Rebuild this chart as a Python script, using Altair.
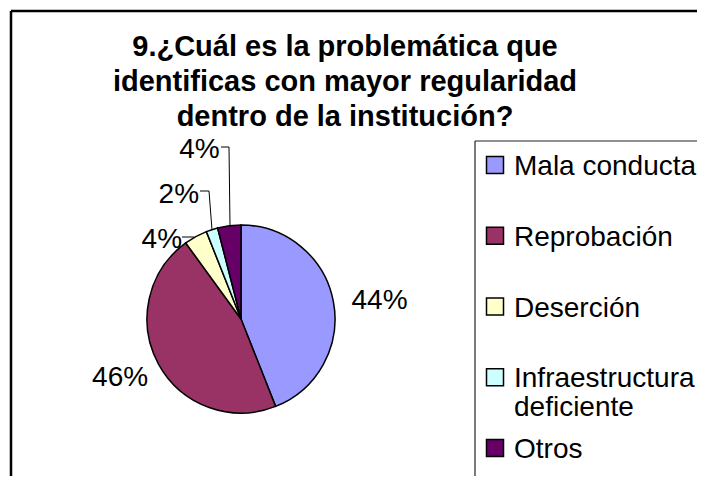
import altair as alt
import pandas as pd

# ---- data ----
categories = ["Mala conducta", "Reprobación", "Deserción", "Infraestructura deficiente", "Otros"]
legend_labels = ["Mala conducta", "Reprobación", "Deserción", "Infraestructura\ndeficiente", "Otros"]
values = [44, 46, 4, 2, 4]
colors = ["#9999FF", "#993366", "#FFFFCC", "#CCFFFF", "#660066"]
title_lines = [
    "9.¿Cuál es la problemática que",
    "identificas con mayor regularidad",
    "dentro de la institución?",
]

df = pd.DataFrame({
    "cat": categories,
    "legend": legend_labels,
    "value": values,
    "idx": list(range(len(categories))),
})

FONT = "Liberation Sans"
W, H = 689, 468
CX, CY, R = 233, 311, 94

color = alt.Color("cat:N", scale=alt.Scale(domain=categories, range=colors), legend=None)
theta = alt.Theta("value:Q", stack=True)
order = alt.Order("idx:Q", sort="ascending")
base = alt.Chart(df).transform_calculate(label="datum.value + '%'")
one = alt.Chart(df).transform_filter(alt.datum.idx == 0)

pie = base.mark_arc(radius=R, stroke="black", strokeWidth=1.5).encode(
    theta=theta, color=color, order=order, x=alt.value(CX), y=alt.value(CY)
)


def slice_label(cat, r, dx=0, dy=0):
    return base.mark_text(
        radius=r, dx=dx, dy=dy, font=FONT, fontSize=28, color="black",
        align="center", baseline="middle",
    ).encode(
        theta=theta, order=order, x=alt.value(CX), y=alt.value(CY),
        text=alt.condition(alt.datum.cat == cat, "label:N", alt.value("")),
    )


labels = [
    slice_label("Mala conducta", 141, 0, 8),
    slice_label("Reprobación", 138, 0, -7),
    slice_label("Deserción", 100, -31, 9),
    slice_label("Infraestructura deficiente", 130, -22, 0),
    slice_label("Otros", 172, -20, 2),
]


def rule(x1, y1, x2, y2, w=1, c="black"):
    return one.mark_rule(strokeWidth=w, color=c).encode(
        x=alt.value(x1), y=alt.value(y1), x2=alt.value(x2), y2=alt.value(y2)
    )


leaders = [
    rule(213, 139, 221, 139), rule(221, 139, 222, 218),
    rule(192, 183, 201, 183), rule(201, 183, 204, 222),
    rule(174, 229, 186, 229),
]

frame = [
    rule(3, 3, 3, H, 2.5), rule(3, 3, W, 3, 2.5),
    rule(467, 133, 467, H, 1.2, "#222"), rule(467, 133, W, 133, 1.2, "#222"),
]

title = one.mark_text(
    text=title_lines, font=FONT, fontSize=29, fontWeight="bold", color="black",
    align="center", baseline="alphabetic", lineHeight=35,
).encode(x=alt.value(337), y=alt.value(48))

ly = alt.Y("cat:N", scale=alt.Scale(type="point", domain=categories, range=[157, 440], padding=0), axis=None)
leg_sym = base.mark_square(size=289, stroke="black", strokeWidth=1.5, opacity=1).encode(
    x=alt.value(487), y=ly, color=color
)
leg_txt = base.mark_text(
    align="left", baseline="alphabetic", dy=10, font=FONT, fontSize=28,
    lineBreak="\n", lineHeight=29, color="black",
).encode(x=alt.value(506), y=ly, text="legend:N")

chart = alt.layer(
    pie, *labels, *leaders, *frame, title, leg_sym, leg_txt
).properties(
    width=W, height=H, padding=0, background="white",
    autosize=alt.AutoSizeParams(type="none"),
).configure_view(stroke=None)

chart.save("out.html", embed_options={"renderer": "svg", "actions": False})
